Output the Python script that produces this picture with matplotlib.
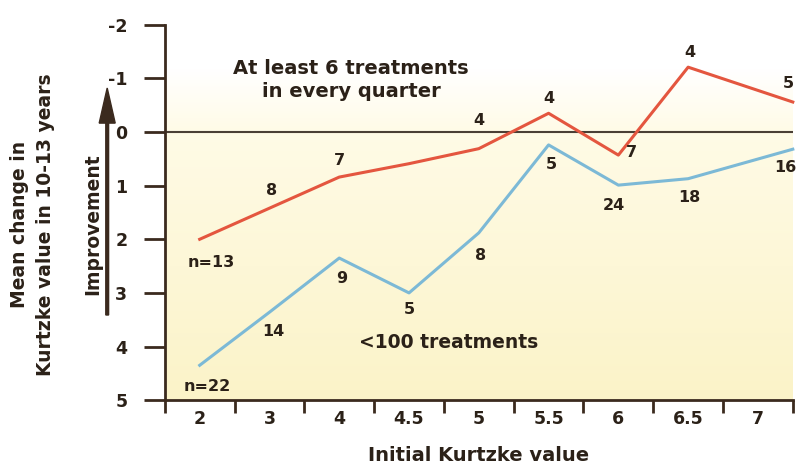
import matplotlib
matplotlib.use('Agg')
import matplotlib.pyplot as plt
import numpy as np
from matplotlib.colors import LinearSegmentedColormap

plt.rcParams['font.family'] = ['DejaVu Sans']
plt.rcParams['font.weight'] = 'bold'

# Initial Kurtzke value categories
categories = ['2', '3', '4', '4.5', '5', '5.5', '6', '6.5', '7']
# x positions of the points (last point sits at the right edge of the axis)
x_pos = [0, 1, 2, 3, 4, 5, 6, 7, 8.5]

# Mean change (positive = worsening, axis inverted)
red_vals = [2.0, 1.42, 0.84, 0.59, 0.31, -0.35, 0.43, -1.21, -0.56]
red_n = ['n=13', '8', '7', '', '4', '4', '7', '4', '5']
blue_vals = [4.35, 3.36, 2.35, 3.0, 1.88, 0.24, 0.99, 0.87, 0.32]
blue_n = ['n=22', '14', '9', '5', '8', '5', '24', '18', '16']

# label offsets in pixels
red_off = [(12, -23), (2, 18), (0, 17), (0, 0), (0, 28), (0, 15), (13, 3), (2, 15), (-4, 19)]
blue_off = [(8, -21), (4, -19), (2, -20), (0, -17), (2, -23), (3, -20), (-4, -20), (1, -19), (-7, -18)]

ink = '#2b2118'
red = '#e4563f'
blue = '#7cb9d6'

fig = plt.figure(figsize=(8, 4.68), dpi=100)
ax = fig.add_axes([0.206, 0.145, 0.785, 0.802])

# soft yellow background fading to white at top
cmap = LinearSegmentedColormap.from_list('bg', [(0, '#fbf3c8'), (0.71, '#fffbe6'), (0.88, '#ffffff'), (1, '#ffffff')])
grad = np.linspace(0, 1, 256).reshape(-1, 1)
ax.imshow(grad, cmap=cmap, extent=[0, 1, 0, 1], transform=ax.transAxes,
          aspect='auto', origin='lower', zorder=0)

ax.set_xlim(-0.5, 8.5)
ax.set_ylim(5, -2)

ax.axhline(0, color='#4a3f35', lw=1.5, zorder=1)

ax.plot(x_pos, red_vals, color=red, lw=2.2, zorder=3, clip_on=False)
ax.plot(x_pos, blue_vals, color=blue, lw=2.2, zorder=3, clip_on=False)

for x, y, t, o in zip(x_pos, red_vals, red_n, red_off):
    if t:
        ax.annotate(t, (x, y), xytext=o, textcoords='offset pixels', ha='center', va='center',
                    fontsize=11.5, fontweight='bold', color=ink, annotation_clip=False)
for x, y, t, o in zip(x_pos, blue_vals, blue_n, blue_off):
    ax.annotate(t, (x, y), xytext=o, textcoords='offset pixels', ha='center', va='center',
                fontsize=11.5, fontweight='bold', color=ink, annotation_clip=False)

ax.text(2.17, -0.97, 'At least 6 treatments\nin every quarter', ha='center', va='center',
        fontsize=14, fontweight='bold', color=ink, linespacing=1.25)
ax.text(3.57, 3.92, '<100 treatments', ha='center', va='center',
        fontsize=13.5, fontweight='bold', color=ink)

for s in ['top', 'right']:
    ax.spines[s].set_visible(False)
for s in ['left', 'bottom']:
    ax.spines[s].set_color('#3b2a1e')
    ax.spines[s].set_linewidth(2)

ax.set_yticks(range(-2, 6))
ax.set_yticklabels([str(v) for v in range(-2, 6)])
ax.tick_params(axis='y', length=15, width=2, color='#3b2a1e', pad=12,
               labelsize=12.5, labelcolor=ink)

ax.set_xticks(np.arange(-0.5, 9, 1))
ax.set_xticklabels([])
ax.tick_params(axis='x', which='major', length=9, width=2, color='#3b2a1e')
ax.set_xticks(range(len(categories)), minor=True)
ax.set_xticklabels(categories, minor=True)
ax.tick_params(axis='x', which='minor', length=0, pad=7, labelsize=12.5, labelcolor=ink)
for lab in ax.get_xticklabels(minor=True) + ax.get_yticklabels():
    lab.set_fontweight('bold')

ax.set_xlabel('Initial Kurtzke value', fontsize=14, fontweight='bold', color=ink, labelpad=13)

fig.text(0.041, 0.52, 'Mean change in\nKurtzke value in 10-13 years', rotation=90,
         ha='center', va='center', fontsize=13.5, fontweight='bold', color=ink, linespacing=1.45)
fig.text(0.116, 0.52, 'Improvement', rotation=90, ha='center', va='center',
         fontsize=13.5, fontweight='bold', color=ink)
fig.patches.append(matplotlib.patches.FancyArrow(
    0.134, 1 - 315 / 468, 0, (315 - 88) / 468, width=0.0035, head_width=0.02,
    head_length=0.075, length_includes_head=True, color='#3b2a1e', transform=fig.transFigure))

fig.savefig('out.png', dpi=100)
